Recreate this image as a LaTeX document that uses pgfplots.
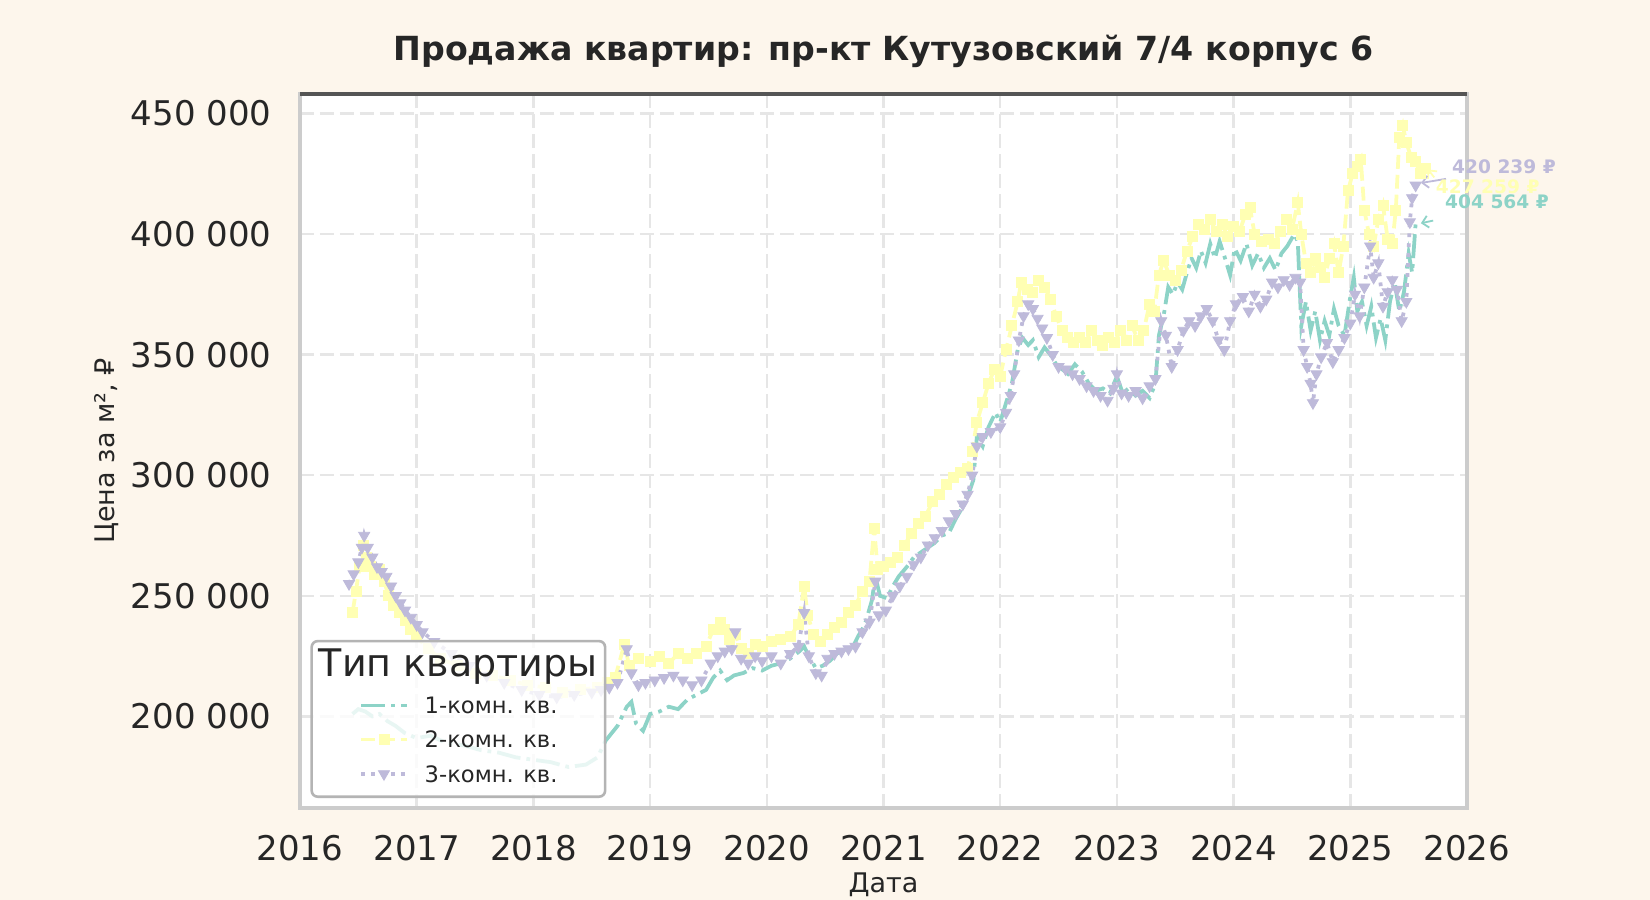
\documentclass[border=0pt]{standalone}
\usepackage{pgfplots}
\pgfplotsset{compat=1.18}
\usepackage{pgfplotstable}
\usepackage{fontspec}
\setmainfont{DejaVu Sans}
\usetikzlibrary{arrows.meta}

\definecolor{bgc}{HTML}{FDF6EC}
\definecolor{c1}{HTML}{8DD3C7}
\definecolor{c2}{HTML}{FFFFB3}
\definecolor{c3}{HTML}{BEBADA}
\definecolor{txt}{HTML}{262626}
\definecolor{gridc}{HTML}{E6E6E6}
\definecolor{spine}{HTML}{CCCCCC}
\definecolor{topsp}{HTML}{555555}
\definecolor{legbd}{HTML}{B4B4B4}

\pgfplotstableread{
x y
2016.45 201000
2016.50 203000
2016.56 202000
2016.62 200000
2016.68 201000
2016.75 198000
2016.82 196000
2016.90 193000
2017.00 191000
2017.12 192000
2017.25 189000
2017.40 188000
2017.55 186000
2017.70 185000
2017.85 183000
2018.00 182000
2018.15 181000
2018.30 179000
2018.45 180000
2018.55 183000
2018.62 190000
2018.67 193000
2018.72 196000
2018.80 204000
2018.84 206000
2018.88 197000
2018.94 194000
2019.00 201000
2019.08 202000
2019.16 204000
2019.24 203000
2019.32 207000
2019.40 209000
2019.48 211000
2019.54 216000
2019.60 219000
2019.66 215000
2019.72 217000
2019.80 218000
2019.88 220000
2019.96 219000
2020.04 221000
2020.12 222000
2020.20 224000
2020.28 227000
2020.32 229000
2020.36 225000
2020.42 220000
2020.48 221000
2020.54 223000
2020.60 226000
2020.66 228000
2020.72 227000
2020.78 233000
2020.84 238000
2020.90 248000
2020.93 258000
2020.97 250000
2021.03 249000
2021.08 254000
2021.13 258000
2021.20 262000
2021.26 266000
2021.32 268000
2021.38 270000
2021.44 272000
2021.50 275000
2021.56 276000
2021.62 282000
2021.68 287000
2021.72 291000
2021.77 298000
2021.80 316000
2021.85 312000
2021.90 320000
2021.96 326000
2022.00 322000
2022.05 330000
2022.10 338000
2022.15 352000
2022.19 357000
2022.24 354000
2022.28 356000
2022.33 349000
2022.38 353000
2022.43 350000
2022.48 346000
2022.53 344000
2022.58 342000
2022.64 346000
2022.70 343000
2022.76 338000
2022.82 335000
2022.88 336000
2022.94 334000
2023.00 341000
2023.05 334000
2023.10 336000
2023.16 333000
2023.22 335000
2023.28 332000
2023.33 338000
2023.36 358000
2023.40 366000
2023.44 378000
2023.48 375000
2023.52 380000
2023.56 377000
2023.60 384000
2023.64 390000
2023.68 386000
2023.72 393000
2023.76 388000
2023.80 396000
2023.84 390000
2023.88 397000
2023.92 391000
2023.97 383000
2024.01 394000
2024.06 389000
2024.11 396000
2024.16 387000
2024.21 392000
2024.26 386000
2024.31 390000
2024.36 385000
2024.41 392000
2024.46 395000
2024.52 400000
2024.55 397000
2024.58 362000
2024.62 372000
2024.66 360000
2024.70 368000
2024.74 356000
2024.78 364000
2024.82 358000
2024.86 369000
2024.90 362000
2024.95 358000
2025.00 374000
2025.03 382000
2025.06 368000
2025.10 372000
2025.14 362000
2025.18 370000
2025.22 357000
2025.26 365000
2025.30 356000
2025.34 372000
2025.38 380000
2025.42 368000
2025.46 376000
2025.50 392000
2025.53 384000
2025.56 404564
}\tone

\pgfplotstableread{
x y
2016.45 243000
2016.48 252000
2016.51 262000
2016.54 271000
2016.57 266000
2016.60 262000
2016.64 259000
2016.68 261000
2016.72 256000
2016.76 250000
2016.80 246000
2016.85 243000
2016.90 240000
2016.95 236000
2017.00 233000
2017.10 228000
2017.20 224000
2017.35 221000
2017.50 218000
2017.65 217000
2017.80 215000
2017.95 213000
2018.10 212000
2018.25 210000
2018.40 211000
2018.55 212000
2018.63 214000
2018.70 216000
2018.78 230000
2018.82 221000
2018.90 224000
2019.00 223000
2019.08 225000
2019.16 222000
2019.24 226000
2019.32 224000
2019.40 226000
2019.48 229000
2019.54 236000
2019.60 239000
2019.64 236000
2019.68 232000
2019.73 234000
2019.78 228000
2019.84 226000
2019.90 230000
2019.96 229000
2020.04 231000
2020.12 232000
2020.20 233000
2020.27 238000
2020.32 254000
2020.35 242000
2020.40 234000
2020.46 231000
2020.52 234000
2020.58 237000
2020.64 239000
2020.70 243000
2020.76 246000
2020.82 252000
2020.88 256000
2020.92 278000
2020.95 261000
2021.00 262000
2021.06 264000
2021.12 266000
2021.18 271000
2021.24 276000
2021.30 280000
2021.36 283000
2021.42 289000
2021.48 292000
2021.54 296000
2021.60 299000
2021.66 301000
2021.72 303000
2021.76 310000
2021.80 322000
2021.85 330000
2021.90 338000
2021.95 344000
2022.00 341000
2022.05 352000
2022.10 362000
2022.15 372000
2022.18 380000
2022.23 377000
2022.28 376000
2022.33 381000
2022.38 378000
2022.43 373000
2022.48 366000
2022.53 360000
2022.58 357000
2022.63 355000
2022.68 357000
2022.73 355000
2022.78 360000
2022.83 356000
2022.88 354000
2022.93 357000
2022.98 355000
2023.03 360000
2023.08 356000
2023.13 362000
2023.18 356000
2023.23 360000
2023.28 371000
2023.32 368000
2023.36 383000
2023.40 389000
2023.45 383000
2023.50 381000
2023.55 385000
2023.60 393000
2023.65 399000
2023.70 404000
2023.75 402000
2023.80 406000
2023.85 401000
2023.90 404000
2023.95 399000
2024.00 403000
2024.05 401000
2024.10 408000
2024.14 411000
2024.18 400000
2024.24 397000
2024.30 398000
2024.35 396000
2024.40 401000
2024.45 406000
2024.50 402000
2024.55 413000
2024.58 400000
2024.62 388000
2024.66 384000
2024.70 390000
2024.74 386000
2024.78 382000
2024.82 390000
2024.86 396000
2024.90 384000
2024.94 395000
2024.98 418000
2025.02 425000
2025.06 428000
2025.09 431000
2025.12 410000
2025.16 400000
2025.20 395000
2025.24 406000
2025.28 412000
2025.32 398000
2025.36 396000
2025.39 410000
2025.42 440000
2025.45 445000
2025.48 438000
2025.52 432000
2025.56 430000
2025.60 425000
2025.64 427259
}\ttwo

\pgfplotstableread{
x y
2016.42 255000
2016.46 259000
2016.50 264000
2016.53 270000
2016.55 275000
2016.58 270000
2016.62 266000
2016.66 262000
2016.70 260000
2016.74 258000
2016.78 254000
2016.82 250000
2016.86 247000
2016.90 244000
2016.95 241000
2017.00 238000
2017.05 235000
2017.15 231000
2017.30 226000
2017.45 221000
2017.60 217000
2017.75 214000
2017.90 211000
2018.05 209000
2018.20 208000
2018.35 209000
2018.50 210000
2018.58 211000
2018.65 212000
2018.72 214000
2018.80 228000
2018.84 218000
2018.90 213000
2018.96 214000
2019.04 215000
2019.12 216000
2019.20 217000
2019.28 215000
2019.36 213000
2019.44 215000
2019.52 222000
2019.58 225000
2019.64 227000
2019.70 228000
2019.73 235000
2019.78 224000
2019.84 222000
2019.90 225000
2019.96 223000
2020.04 225000
2020.12 222000
2020.20 226000
2020.27 229000
2020.32 243000
2020.36 225000
2020.42 218000
2020.47 217000
2020.52 224000
2020.58 226000
2020.64 227000
2020.70 228000
2020.76 229000
2020.82 235000
2020.88 239000
2020.93 256000
2020.96 242000
2021.02 244000
2021.08 250000
2021.14 254000
2021.20 258000
2021.26 263000
2021.32 266000
2021.38 271000
2021.44 274000
2021.50 277000
2021.56 281000
2021.62 284000
2021.68 288000
2021.72 292000
2021.76 300000
2021.80 312000
2021.85 316000
2021.92 318000
2022.00 320000
2022.05 326000
2022.09 333000
2022.12 342000
2022.16 356000
2022.20 366000
2022.24 371000
2022.28 369000
2022.32 365000
2022.36 361000
2022.40 357000
2022.45 350000
2022.50 345000
2022.56 344000
2022.62 342000
2022.68 340000
2022.74 337000
2022.80 335000
2022.86 333000
2022.92 331000
2022.97 336000
2023.00 342000
2023.04 334000
2023.10 333000
2023.16 335000
2023.22 332000
2023.28 337000
2023.33 340000
2023.38 364000
2023.42 358000
2023.47 345000
2023.52 352000
2023.57 360000
2023.62 364000
2023.67 362000
2023.72 366000
2023.77 369000
2023.82 364000
2023.87 356000
2023.92 352000
2023.97 364000
2024.02 371000
2024.08 374000
2024.13 368000
2024.18 375000
2024.23 370000
2024.28 373000
2024.33 380000
2024.38 378000
2024.43 381000
2024.48 379000
2024.53 382000
2024.57 380000
2024.60 352000
2024.63 345000
2024.66 338000
2024.68 330000
2024.71 342000
2024.75 349000
2024.80 355000
2024.85 347000
2024.90 352000
2024.95 357000
2025.00 363000
2025.04 375000
2025.08 366000
2025.12 378000
2025.17 395000
2025.20 382000
2025.24 388000
2025.28 370000
2025.32 376000
2025.36 381000
2025.40 377000
2025.44 364000
2025.48 372000
2025.51 405000
2025.53 415000
2025.56 420239
}\tthree

\begin{document}
\begin{tikzpicture}
\path[fill=bgc, use as bounding box] (-150pt,-46pt) rectangle (675pt,404pt);
\begin{axis}[
  at={(0pt,0pt)}, anchor=south west,
  scale only axis, width=583.5pt, height=357pt,
  xmin=2016, xmax=2026, ymin=162000, ymax=458100,
  clip=false,
  scaled ticks=false,
  axis background/.style={fill=white},
  axis line style={draw=spine, line width=1.65pt},
  xtick={2016,2017,2018,2019,2020,2021,2022,2023,2024,2025,2026},
  xticklabels={2016,2017,2018,2019,2020,2021,2022,2023,2024,2025,2026},
  ytick={200000,250000,300000,350000,400000,450000},
  yticklabels={200 000,250 000,300 000,350 000,400 000,450 000},
  major tick length=0pt,
  tick style={draw=none},
  grid=major,
  major grid style={draw=gridc, line width=1.25pt, dash pattern=on 7pt off 3pt},
  ticklabel style={font=\fontsize{17}{20}\selectfont, text=txt, inner sep=0pt},
  xticklabel style={anchor=base, yshift=-26pt},
  yticklabel style={anchor=east, xshift=-14pt},
  legend style={draw=legbd, line width=1.3pt, fill=white, fill opacity=0.8,
    draw opacity=1, text opacity=1, rounded corners=3pt,
    inner xsep=23.8pt, inner ysep=7.23pt, outer sep=0pt,
    at={(axis description cs:0.010026,0.015826)}, anchor=south west,
    font=\fontsize{11.3}{13}\selectfont, text=txt,
    row sep=8.76pt, column sep=8pt,
    nodes={inner sep=0pt, text depth=0pt}},
  legend cell align=left,
  legend image post style={sharp corners, fill opacity=1},
  legend image code/.code={\draw[mark repeat=2,mark phase=2,#1] plot coordinates {(0pt,0pt) (11.4pt,0pt) (22.85pt,0pt)};},
]
\addlegendimage{empty legend}
\addlegendentry{\makebox[0pt][l]{\hspace{16.2pt}\makebox[0pt][c]{\raisebox{1.77pt}[12.04pt][0pt]{\fontsize{19}{22}\selectfont Тип квартиры}}}}
\addplot[c1, line width=1.875pt, dash pattern=on 12pt off 3pt on 1.875pt off 3pt, no marks]
  table[x=x,y=y]{\tone};
\addlegendentry{1-комн. кв.}
\addplot[c2, line width=1.875pt, dash pattern=on 6.95pt off 3pt, mark=square*, mark size=2.5pt,
  mark options={solid, fill=c2, draw=c2, line width=0.4pt}]
  table[x=x,y=y]{\ttwo};
\addlegendentry{2-комн. кв.}
\addplot[c3, line width=1.875pt, dash pattern=on 1.875pt off 3.1pt, mark=triangle*, mark size=3.2pt,
  mark options={solid, rotate=180, fill=c3, draw=c3, line width=0.4pt}]
  table[x=x,y=y]{\tthree};
\addlegendentry{3-комн. кв.}

% annotations
\draw[c1, line width=0.9pt, -{Straight Barb[length=3pt,width=6pt]}] (axis cs:2025.71,405600) -- (axis cs:2025.605,404500);
\draw[c2, line width=0.9pt, -{Straight Barb[length=3pt,width=6pt]}] (axis cs:2025.72,423500) -- (axis cs:2025.665,426800);
\draw[c3, line width=0.9pt, -{Straight Barb[length=3pt,width=6pt]}] (axis cs:2025.82,422900) -- (axis cs:2025.606,421200);
\node[anchor=west, inner sep=0pt, text=c3, font=\bfseries\fontsize{9.3}{11}\selectfont] at (axis cs:2025.87,427900) {420 239 ₽};
\node[anchor=west, inner sep=0pt, text=c2, font=\bfseries\fontsize{9.3}{11}\selectfont] at (axis cs:2025.73,419600) {427 259 ₽};
\node[anchor=west, inner sep=0pt, text=c1, font=\bfseries\fontsize{9.3}{11}\selectfont] at (axis cs:2025.81,413400) {404 564 ₽};
\end{axis}
\draw[topsp, line width=1.8pt] (0pt,357pt) -- (583.5pt,357pt);
\node[anchor=base, inner sep=0pt, text=txt, font=\bfseries\fontsize{16.6}{19}\selectfont] at (291.75pt,373.5pt) {Продажа квартир: пр-кт Кутузовский 7/4 корпус 6};
\node[rotate=90, inner sep=0pt, text=txt, font=\fontsize{13.5}{16}\selectfont] at (-96.5pt,178.5pt) {Цена за м², ₽};
\node[anchor=base, inner sep=0pt, text=txt, font=\fontsize{13.5}{16}\selectfont] at (291.75pt,-42pt) {Дата};
\end{tikzpicture}
\end{document}
